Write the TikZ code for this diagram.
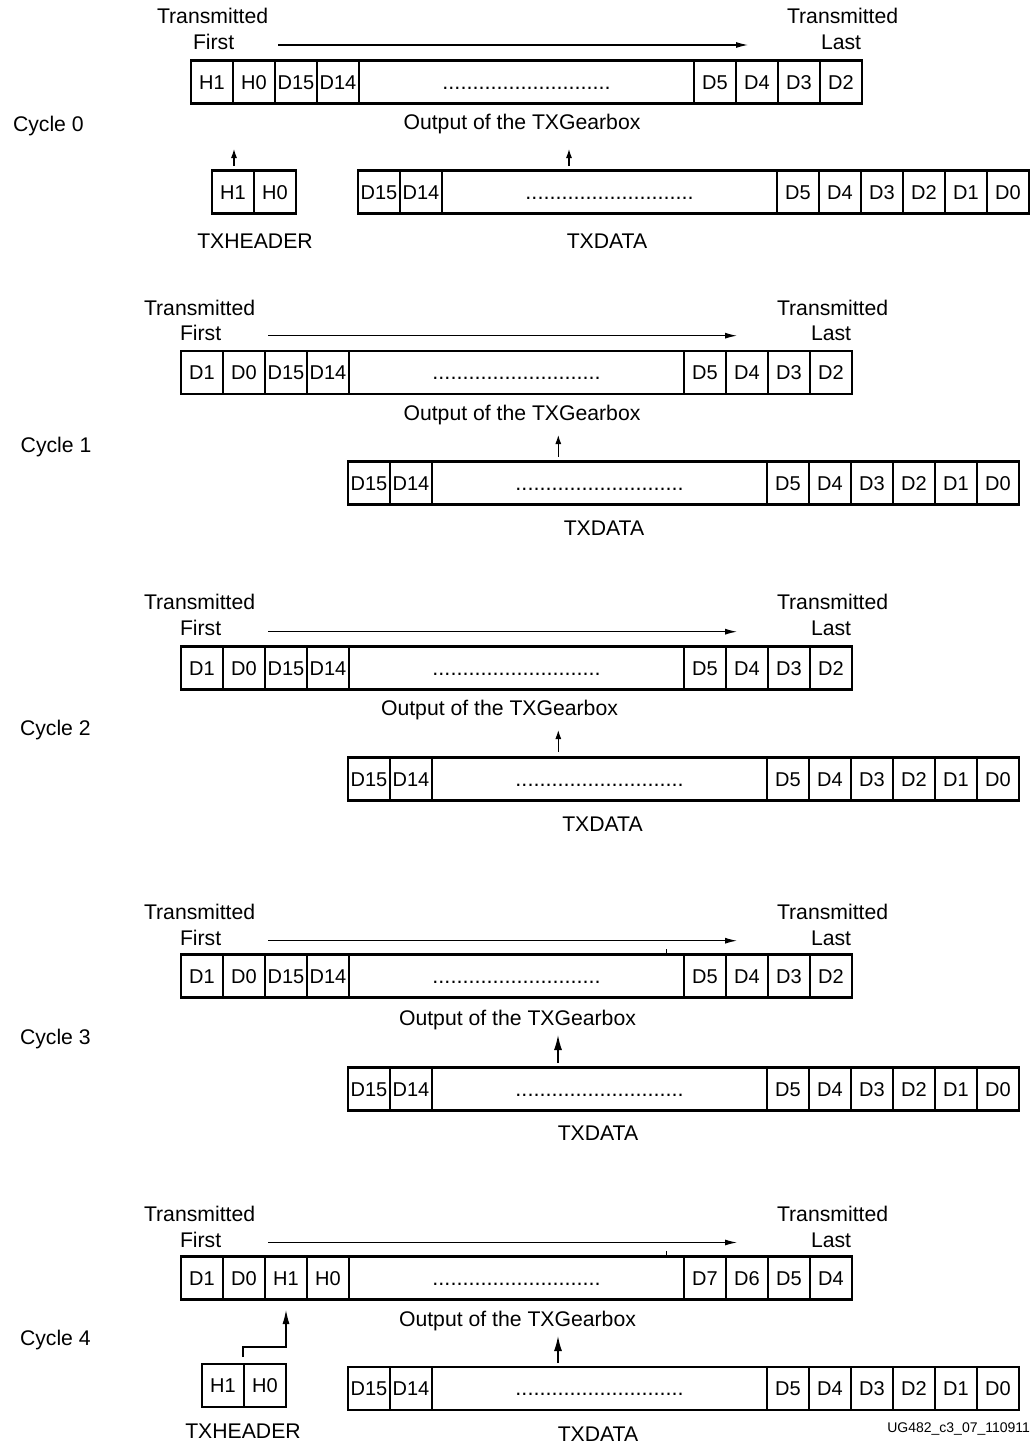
\documentclass[tikz,border=0pt]{standalone}
\usepackage{fontspec}
\setmainfont{Liberation Sans}
\usetikzlibrary{arrows.meta}
\tikzset{
  cell/.style={draw, line width=0.55pt, inner sep=0pt, outer sep=0pt, minimum width=21pt, minimum height=21.5pt, text height=0.716em, text depth=0pt, font=\fontsize{10}{12}\selectfont},
  rowbox/.style={draw, line width=1.3pt, inner sep=0pt, outer sep=0pt, minimum height=21.5pt},
  lbl/.style={inner sep=0pt, outer sep=0pt, font=\fontsize{10.6}{12.7}\selectfont},
  small/.style={inner sep=0pt, outer sep=0pt, font=\fontsize{7}{8}\selectfont},
  harrow/.style={line width=0.55pt, -{Latex[length=6pt,width=3pt]}},
  varrow/.style={line width=0.55pt, -{Latex[length=4.5pt,width=3pt]}},
  bigarrow/.style={line width=0.7pt, -{Latex[length=7.5pt,width=4pt]}},
  elbow/.style={line width=0.55pt, -{Latex[length=7pt,width=3.5pt]}},
  tickline/.style={line width=0.4pt},
}
\def\gbdots{{\fontsize{10.8}{12}\selectfont ............................}}
% #1 name #2 x-left #3 y-centre #4 nL #5 left labels #6 dots width #7 right labels #8 nR
\newcommand\gbrow[8]{%
  \foreach \lab [count=\i from 0] in {#5}{\node[cell] (#1-l\i) at ({#2+42*\i+21},#3) {\lab};}
  \node[cell, minimum width={(#6)*0.5pt}] (#1-d) at ({#2+42*#4+(#6)/2},#3) {\gbdots};
  \foreach \lab [count=\i from 0] in {#7}{\node[cell] (#1-r\i) at ({#2+42*#4+#6+42*\i+21},#3) {\lab};}
  \node[rowbox, minimum width={(42*(#4+#8)+#6)*0.5pt}] (#1) at ({#2+(42*(#4+#8)+#6)/2},#3) {};
}
\newcommand\hdrrow[3]{%
  \node[cell] (#1-l0) at ({#2+21},#3) {H1};
  \node[cell] (#1-l1) at ({#2+63},#3) {H0};
  \node[rowbox, minimum width=42pt] (#1) at ({#2+42},#3) {};
}
\begin{document}
\begin{tikzpicture}[x=0.5pt, y=-0.5pt]
\useasboundingbox (0,0) rectangle (1036,1445);

% ---------------- Cycle 0
\node[lbl, anchor=base west] (c0) at (13,131.7) {Cycle 0};
\node[lbl, anchor=base west] (c0tf1) at (157,24) {Transmitted};
\node[lbl, anchor=base west] (c0tf2) at (193,50) {First};
\node[lbl, anchor=base west] (c0tl1) at (787,24) {Transmitted};
\node[lbl, anchor=base west] (c0tl2) at (821,50) {Last};
\coordinate (c0as) at (278,45); \coordinate (c0ae) at (748,45);
\draw[harrow] (c0as) -- (c0ae);
\gbrow{c0o}{191}{82}{4}{H1,H0,D15,D14}{335}{D5,D4,D3,D2}{4}
\node[lbl, anchor=base] (c0out) at (522,130) {Output of the TXGearbox};
\hdrrow{c0h}{212}{192}
\gbrow{c0d}{358}{192}{2}{D15,D14}{335}{D5,D4,D3,D2,D1,D0}{6}
\coordinate (c0h1) at (234,166); \coordinate (c0h2) at (234,149);
\draw[varrow] (c0h1) -- (c0h2);
\coordinate (c0d1) at (569,166); \coordinate (c0d2) at (569,149);
\draw[varrow] (c0d1) -- (c0d2);
\node[lbl, anchor=base] (c0hl) at (255,248) {TXHEADER};
\node[lbl, anchor=base] (c0dl) at (607,248) {TXDATA};

% ---------------- Cycle 1
\node[lbl, anchor=base west] (c1) at (20.7,452.7) {Cycle 1};
\node[lbl, anchor=base west] (c1tf1) at (144,315) {Transmitted};
\node[lbl, anchor=base west] (c1tf2) at (180,340) {First};
\node[lbl, anchor=base west] (c1tl1) at (777,315) {Transmitted};
\node[lbl, anchor=base west] (c1tl2) at (811,340) {Last};
\coordinate (c1as) at (268,335.7); \coordinate (c1ae) at (737,335.7);
\draw[harrow] (c1as) -- (c1ae);
\gbrow{c1o}{181}{372.5}{4}{D1,D0,D15,D14}{335}{D5,D4,D3,D2}{4}
\node[lbl, anchor=base] (c1out) at (522,420) {Output of the TXGearbox};
\gbrow{c1d}{348}{483}{2}{D15,D14}{335}{D5,D4,D3,D2,D1,D0}{6}
\coordinate (c1d1) at (558.3,456.7); \coordinate (c1d2) at (558.3,435);
\draw[varrow] (c1d1) -- (c1d2);
\node[lbl, anchor=base] (c1dl) at (604,535) {TXDATA};

% ---------------- Cycle 2
\node[lbl, anchor=base west] (c2) at (20,735) {Cycle 2};
\node[lbl, anchor=base west] (c2tf1) at (144,609.3) {Transmitted};
\node[lbl, anchor=base west] (c2tf2) at (180,635) {First};
\node[lbl, anchor=base west] (c2tl1) at (777,609.3) {Transmitted};
\node[lbl, anchor=base west] (c2tl2) at (811,635) {Last};
\coordinate (c2as) at (268,631.7); \coordinate (c2ae) at (737,631.7);
\draw[harrow] (c2as) -- (c2ae);
\gbrow{c2o}{181}{668}{4}{D1,D0,D15,D14}{335}{D5,D4,D3,D2}{4}
\node[lbl, anchor=base] (c2out) at (499.5,715) {Output of the TXGearbox};
\gbrow{c2d}{348}{779}{2}{D15,D14}{335}{D5,D4,D3,D2,D1,D0}{6}
\coordinate (c2d1) at (558.3,751.7); \coordinate (c2d2) at (558.3,730);
\draw[varrow] (c2d1) -- (c2d2);
\node[lbl, anchor=base] (c2dl) at (602.5,831.7) {TXDATA};

% ---------------- Cycle 3
\node[lbl, anchor=base west] (c3) at (20,1044) {Cycle 3};
\node[lbl, anchor=base west] (c3tf1) at (144,919) {Transmitted};
\node[lbl, anchor=base west] (c3tf2) at (180,945) {First};
\node[lbl, anchor=base west] (c3tl1) at (777,919) {Transmitted};
\node[lbl, anchor=base west] (c3tl2) at (811,945) {Last};
\coordinate (c3as) at (268,940.7); \coordinate (c3ae) at (737,940.7);
\draw[harrow] (c3as) -- (c3ae);
\coordinate (c3t1) at (666,949); \coordinate (c3t2) at (666,955);
\draw[tickline] (c3t1) -- (c3t2);
\gbrow{c3o}{181}{976}{4}{D1,D0,D15,D14}{335}{D5,D4,D3,D2}{4}
\node[lbl, anchor=base] (c3out) at (517.5,1025) {Output of the TXGearbox};
\gbrow{c3d}{348}{1089}{2}{D15,D14}{335}{D5,D4,D3,D2,D1,D0}{6}
\coordinate (c3d1) at (558,1063); \coordinate (c3d2) at (558,1035);
\draw[bigarrow] (c3d1) -- (c3d2);
\node[lbl, anchor=base] (c3dl) at (598,1140) {TXDATA};

% ---------------- Cycle 4
\node[lbl, anchor=base west] (c4) at (20,1345) {Cycle 4};
\node[lbl, anchor=base west] (c4tf1) at (144,1221) {Transmitted};
\node[lbl, anchor=base west] (c4tf2) at (180,1247) {First};
\node[lbl, anchor=base west] (c4tl1) at (777,1221) {Transmitted};
\node[lbl, anchor=base west] (c4tl2) at (811,1247) {Last};
\coordinate (c4as) at (268,1242.5); \coordinate (c4ae) at (737,1242.5);
\draw[harrow] (c4as) -- (c4ae);
\coordinate (c4t1) at (666,1251); \coordinate (c4t2) at (666,1257);
\draw[tickline] (c4t1) -- (c4t2);
\gbrow{c4o}{181}{1278}{4}{D1,D0,H1,H0}{335}{D7,D6,D5,D4}{4}
\node[lbl, anchor=base] (c4out) at (517.5,1326) {Output of the TXGearbox};
\hdrrow{c4h}{202}{1385.5}
\gbrow{c4d}{348}{1388.5}{2}{D15,D14}{335}{D5,D4,D3,D2,D1,D0}{6}
\coordinate (c4e1) at (243,1357); \coordinate (c4e2) at (286,1310);
\draw[elbow] (c4e1) -- (243,1347) -- (286,1347) -- (c4e2);
\coordinate (c4d1) at (558,1363); \coordinate (c4d2) at (558,1336);
\draw[bigarrow] (c4d1) -- (c4d2);
\node[lbl, anchor=base] (c4hl) at (243,1438) {TXHEADER};
\node[lbl, anchor=base] (c4dl) at (598,1441) {TXDATA};
\node[small, anchor=base east] (fig) at (1030,1432) {UG482\_c3\_07\_110911};
\end{tikzpicture}
\end{document}
